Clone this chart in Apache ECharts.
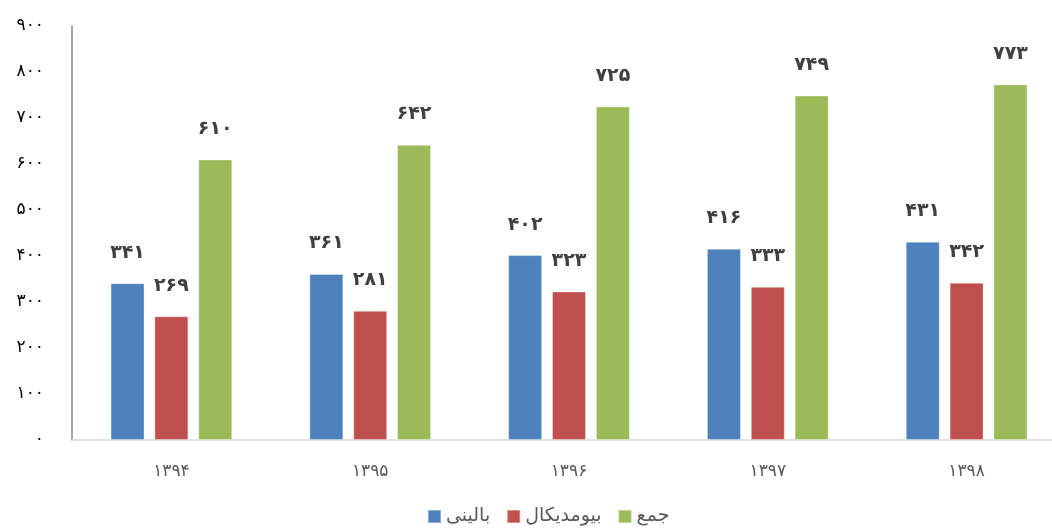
<!DOCTYPE html>
<html><head><meta charset="utf-8">
<script src="https://cdn.jsdelivr.net/npm/echarts@6/dist/echarts.min.js"></script>
<style>html,body{margin:0;padding:0;background:#fff}#c{width:1052px;height:531px}</style>
</head><body><div id="c"></div>
<script>
var categories = ['۱۳۹۴','۱۳۹۵','۱۳۹۶','۱۳۹۷','۱۳۹۸'];
var seriesNames = ['بالینی','بیومدیکال','جمع'];
var clinical = [341, 361, 402, 416, 431];
var biomedical = [269, 281, 323, 333, 342];
var total = [610, 642, 725, 749, 773];
var colors = ['#4f81bd','#c0504d','#9bbb59'];

function fa(n){ return String(n).replace(/\d/g, function(d){ return '۰۱۲۳۴۵۶۷۸۹'[+d]; }); }

var chart = echarts.init(document.getElementById('c'));
var FONT = 'DejaVu Sans';
function mk(name, data, color){
  return {
    name: name, type: 'bar', data: data, barWidth: 34, barGap: '29%',
    itemStyle: {color: color, borderColor: 'rgba(255,255,255,0.35)', borderWidth: 1},
    label: {show: true, position: 'top', distance: 21, color: '#404040', fontSize: 19, fontWeight: 'bold', fontFamily: FONT,
      formatter: function(p){ return fa(p.value); }}
  };
}
chart.setOption({
  animation: false,
  color: colors,
  grid: {left: 72, width: 994, top: 26, bottom: 91, containLabel: false, outerBoundsMode: 'none'},
  legend: {bottom: 0, left: 422, itemWidth: 13, itemHeight: 13, itemGap: 16,
    textStyle: {fontSize: 19, color: '#595959', fontFamily: FONT}, icon: 'rect',
    data: seriesNames},
  xAxis: {type: 'category', data: categories,
    axisLine: {lineStyle: {color: '#d9d9d9', width: 1.5}}, axisTick: {show: false},
    axisLabel: {color: '#595959', fontSize: 17, margin: 23, fontFamily: FONT}},
  yAxis: {type: 'value', min: 0, max: 900, interval: 100,
    axisLine: {show: true, lineStyle: {color: '#868686', width: 1.5}}, axisTick: {show: false},
    splitLine: {show: false},
    axisLabel: {color: '#000', fontSize: 17, margin: 28, fontFamily: FONT, formatter: function(v){ return fa(v); }}},
  series: [mk(seriesNames[0], clinical, colors[0]), mk(seriesNames[1], biomedical, colors[1]), mk(seriesNames[2], total, colors[2])]
});
</script></body></html>
